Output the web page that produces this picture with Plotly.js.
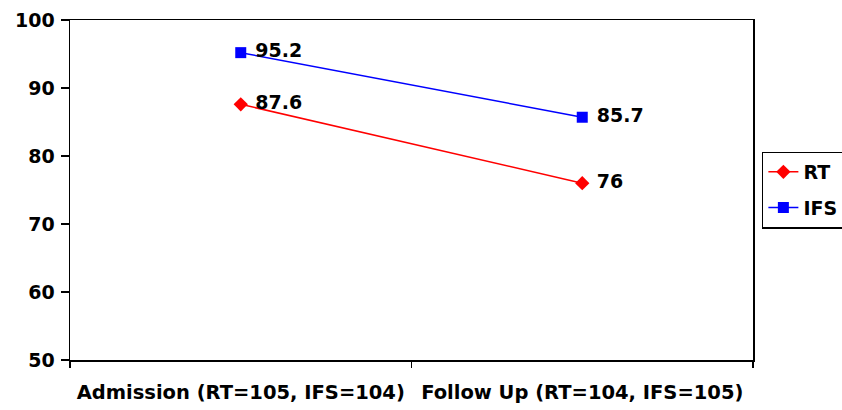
<!DOCTYPE html>
<html><head><meta charset="utf-8">
<script src="https://cdn.plot.ly/plotly-3.0.1.min.js"></script>
<style>body{margin:0;background:#fff}#c{width:842px;height:410px}</style>
</head><body><div id="c"></div>
<script>
const categories = ["Admission (RT=105, IFS=104)", "Follow Up (RT=104, IFS=105)"];
const rtValues = [87.6, 76];
const ifsValues = [95.2, 85.7];
const yTicks = [50, 60, 70, 80, 90, 100];

const fam = "DejaVu Sans, Arial, sans-serif";
const bold = {family: fam, size: 19, color: "#000", weight: "bold"};
const xIdx = categories.map((c, i) => i);

const traces = [
  {x: xIdx, y: rtValues, name: "RT", legendgroup: "a", mode: "lines+markers+text",
   text: rtValues.map(v => " " + v), textposition: "middle right",
   textfont: bold,
   line: {color: "#ff0000", width: 1.5},
   marker: {symbol: "diamond", size: 11, color: "#ff0000"}},
  {x: xIdx, y: ifsValues, name: "IFS", legendgroup: "b", mode: "lines+markers+text",
   text: ifsValues.map(v => " " + v), textposition: "middle right",
   textfont: bold,
   line: {color: "#0000ff", width: 1.5},
   marker: {symbol: "square", size: 11, color: "#0000ff"}},
  {x: [-0.5, 1.5], y: [50, 50], xaxis: "x2", mode: "none", showlegend: false, hoverinfo: "skip"}
];

const layout = {
  width: 842, height: 410,
  margin: {l: 70, r: 89, t: 20, b: 50, autoexpand: false},
  paper_bgcolor: "#fff", plot_bgcolor: "#fff",
  font: bold,
  showlegend: true,
  legend: {x: 1.013, y: 0.5, xanchor: "left", yanchor: "middle",
    bordercolor: "#000", borderwidth: 1.5, bgcolor: "#fff",
    font: bold, itemwidth: 30, tracegroupgap: 8},
  xaxis: {range: [-0.5, 1.5], tickvals: xIdx, ticktext: categories,
    ticks: "", showgrid: false, zeroline: false,
    showline: true, linecolor: "#000", linewidth: 1.5, mirror: true,
    ticklabelstandoff: 14, tickfont: {family: fam, size: 19.5, color: "#000", weight: "bold"}},
  xaxis2: {overlaying: "x", range: [-0.5, 1.5], tickvals: [-0.5, 0.5, 1.5],
    showticklabels: false, ticks: "outside", ticklen: 7, tickwidth: 1.5, tickcolor: "#000",
    showgrid: false, zeroline: false, showline: false, side: "bottom", anchor: "y"},
  yaxis: {range: [50, 100], tickvals: yTicks, ticks: "outside", ticklen: 8,
    tickwidth: 1.5, tickcolor: "#000", showgrid: false, zeroline: false,
    showline: true, linecolor: "#000", linewidth: 1.5, mirror: true,
    ticklabelstandoff: 2, tickfont: bold}
};
Plotly.newPlot("c", traces, layout, {displayModeBar: false, staticPlot: true});
</script></body></html>
